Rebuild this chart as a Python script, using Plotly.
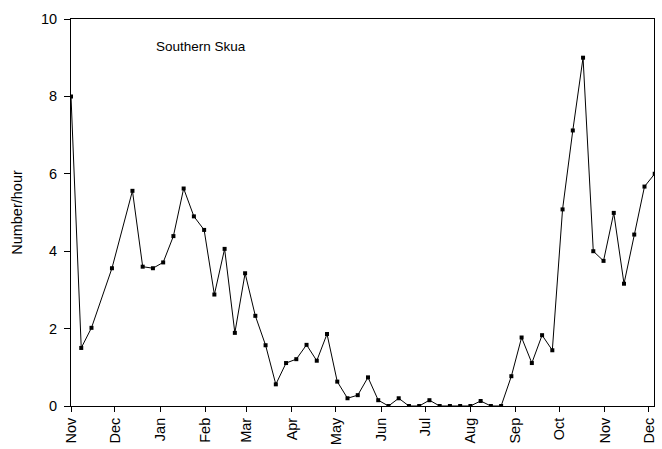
import plotly.graph_objects as go

# Weekly counts of Southern Skua (birds per hour of observation)
dates = [
    "2001-11-01", "2001-11-08", "2001-11-15", "2001-11-29", "2001-12-13",
    "2001-12-20", "2001-12-27", "2002-01-03", "2002-01-10", "2002-01-17",
    "2002-01-24", "2002-01-31", "2002-02-07", "2002-02-14", "2002-02-21",
    "2002-02-28", "2002-03-07", "2002-03-14", "2002-03-21", "2002-03-28",
    "2002-04-04", "2002-04-11", "2002-04-18", "2002-04-25", "2002-05-02",
    "2002-05-09", "2002-05-16", "2002-05-23", "2002-05-30", "2002-06-06",
    "2002-06-13", "2002-06-20", "2002-06-27", "2002-07-04", "2002-07-11",
    "2002-07-18", "2002-07-25", "2002-08-01", "2002-08-08", "2002-08-15",
    "2002-08-22", "2002-08-29", "2002-09-05", "2002-09-12", "2002-09-19",
    "2002-09-26", "2002-10-03", "2002-10-10", "2002-10-17", "2002-10-24",
    "2002-10-31", "2002-11-07", "2002-11-14", "2002-11-21", "2002-11-28",
    "2002-12-05",
]
rate = [
    8.00, 1.50, 2.02, 3.56, 5.56,
    3.60, 3.56, 3.71, 4.39, 5.62,
    4.90, 4.55, 2.88, 4.06, 1.89,
    3.43, 2.33, 1.57, 0.56, 1.11,
    1.21, 1.58, 1.17, 1.86, 0.63,
    0.20, 0.28, 0.74, 0.15, 0.00,
    0.20, 0.00, 0.00, 0.15, 0.00,
    0.00, 0.00, 0.00, 0.13, 0.00,
    0.00, 0.77, 1.77, 1.11, 1.83,
    1.44, 5.08, 7.12, 9.00, 4.00,
    3.75, 4.99, 3.16, 4.43, 5.67,
    6.00,
]
title_text = "Southern Skua"
y_title = "Number/hour"

font_family = "Liberation Sans, Arial, sans-serif"

fig = go.Figure(
    go.Scatter(
        x=dates,
        y=rate,
        mode="lines+markers",
        line=dict(color="black", width=1),
        marker=dict(symbol="square", size=4, color="black"),
        showlegend=False,
    )
)

fig.update_layout(
    width=662,
    height=449,
    margin=dict(l=71, r=8, t=19, b=43),
    paper_bgcolor="white",
    plot_bgcolor="white",
    font=dict(family=font_family, color="black", size=14),
    annotations=[
        dict(
            text=title_text,
            x=0.143, y=0.93, xref="paper", yref="paper",
            xanchor="left", yanchor="middle", showarrow=False,
            font=dict(size=13.5, family=font_family, color="black"),
        )
    ],
)

fig.update_xaxes(
    range=["2001-11-01", "2002-12-04 12:00"],
    tick0="2001-11-01",
    dtick="M1",
    tickformat="%b",
    tickangle=-90,
    ticks="outside",
    ticklen=5,
    tickcolor="black",
    showline=True,
    linecolor="black",
    linewidth=1,
    mirror=True,
    showgrid=False,
    zeroline=False,
    automargin=False,
    tickfont=dict(size=14.5),
)

fig.update_yaxes(
    range=[0, 10],
    dtick=2,
    ticks="outside",
    ticklen=6,
    tickcolor="black",
    showline=True,
    linecolor="black",
    linewidth=1,
    mirror=True,
    showgrid=False,
    zeroline=False,
    automargin=False,
    ticklabelstandoff=4,
    tickfont=dict(size=14.5),
    title=dict(text=y_title, font=dict(size=14.5), standoff=14),
)

fig.write_html("out.html")
